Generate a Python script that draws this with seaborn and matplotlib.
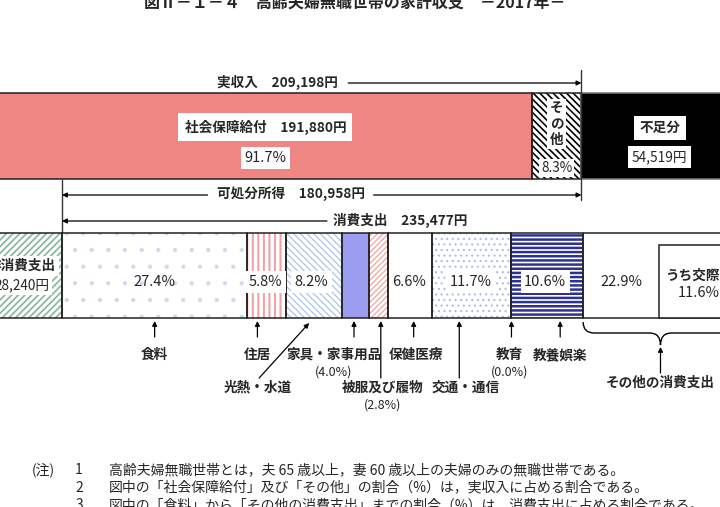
import numpy as np
import pandas as pd
import matplotlib
matplotlib.use("Agg")
import matplotlib.pyplot as plt
import seaborn as sns
from matplotlib.path import Path
from matplotlib.patches import PathPatch

sns.set_theme(style="white")
plt.rcParams['font.family'] = ['Noto Sans CJK JP', 'DejaVu Sans']
plt.rcParams['hatch.linewidth'] = 0.9

# ---------------- data ----------------
title = "図Ⅱ－１－４　高齢夫婦無職世帯の家計収支　－2017年－"
income_labels = ["社会保障給付", "その他", "不足分"]
income_values = [191880, 17318, 54519]
income_pct = [91.7, 8.3]
real_income = 209198
disposable_income = 180958
non_consumption = 28240
consumption_total = 235477
cons_labels = ["食料", "住居", "光熱・水道", "家具・家事用品", "被服及び履物",
               "保健医療", "交通・通信", "教育", "教養娯楽", "その他の消費支出"]
cons_pct = [27.4, 5.8, 8.2, 4.0, 2.8, 6.6, 11.7, 0.0, 10.6, 22.9]
social_pct = 11.6  # うち交際費
notes = ["高齢夫婦無職世帯とは，夫 65 歳以上，妻 60 歳以上の夫婦のみの無職世帯である。",
         "図中の「社会保障給付」及び「その他」の割合（%）は，実収入に占める割合である。",
         "図中の「食料」から「その他の消費支出」までの割合（%）は，消費支出に占める割合である。"]

# ---------------- layout ----------------
K = 0.00287      # px per yen
X0 = -19         # px position of 0 yen
W, H = 720, 507
def yen(px_off):
    return px_off / K

fig = plt.figure(figsize=(7.2, 5.07), dpi=100)
ax = fig.add_axes([0, 0, 1, 1])
ax.set_xlim((0 - X0) / K, (W - X0) / K)
ax.set_ylim(H, 0)
ax.axis("off")

EDGE = "#222222"
FS = 9.8
WB = dict(boxstyle="square,pad=0.25", fc="white", ec="none")

def seg(y, left, width, h, face, hatch=None, hcolor=None, hlw=None, edge=EDGE, lw=1.1):
    if hatch:
        bars = ax.barh(y, width, left=left, height=h, color=face, edgecolor=hcolor,
                       hatch=hatch, linewidth=0, zorder=1)
        if hlw is not None:
            for p in bars:
                if hasattr(p, "set_hatch_linewidth"):
                    p.set_hatch_linewidth(hlw)
    else:
        ax.barh(y, width, left=left, height=h, color=face, linewidth=0, zorder=1)
    ax.barh(y, width, left=left, height=h, fill=False, edgecolor=edge, linewidth=lw, zorder=2)

# ---- top bar (income) ----
TY, TH = 136, 86
soc, oth, short = income_values
seg(TY, 0, soc, TH, "#EE8784")
seg(TY, soc, oth, TH, "white", hatch="\\\\\\\\\\", hcolor="black", hlw=1.2)
seg(TY, soc + oth, short, TH, "black", edge="#777777")

cx = soc / 2 + yen(9)
ax.text(cx, 127, f"{income_labels[0]}　{soc:,}円", ha="center", va="center",
        fontsize=FS, weight="bold", bbox=dict(boxstyle="square,pad=0.45", fc="white", ec="none"), zorder=4)
ax.text(cx, 158, f"{income_pct[0]}%", ha="center", va="center", fontsize=10.5,
        bbox=WB, zorder=4)
ox = soc + oth / 2
ax.text(ox, 124, "そ\nの\n他", ha="center", va="center", fontsize=FS, weight="bold",
        linespacing=1.15, bbox=dict(boxstyle="square,pad=0.2", fc="white", ec="none"), zorder=4)
ax.text(ox, 168, f"{income_pct[1]}%", ha="center", va="center", fontsize=9.8,
        bbox=dict(boxstyle="square,pad=0.15", fc="white", ec="none"), zorder=4)
sx = soc + oth + short / 2
ax.text(sx, 128, income_labels[2], ha="center", va="center", fontsize=FS, weight="bold",
        bbox=dict(boxstyle="square,pad=0.4", fc="white", ec="none"), zorder=4)
ax.text(sx, 157, f"{short:,}円", ha="center", va="center", fontsize=FS,
        bbox=dict(boxstyle="square,pad=0.3", fc="white", ec="none"), zorder=4)

# ---- bracket arrows ----
AP = dict(arrowstyle="-|>", color="black", lw=0.9, mutation_scale=7, shrinkA=0, shrinkB=0)
LP = dict(arrowstyle="-", color="black", lw=0.9, shrinkA=0, shrinkB=0)

def span(y, x_start, x_end, text, tx, gap_px, head_left, head_right):
    ax.text(tx, y - 1, text, ha="center", va="center", fontsize=FS, weight="bold", zorder=4)
    gl, gr = tx - yen(gap_px), tx + yen(gap_px)
    ax.annotate("", xy=(x_start, y), xytext=(gl, y), arrowprops=AP if head_left else LP)
    ax.annotate("", xy=(x_end, y), xytext=(gr, y), arrowprops=AP if head_right else LP)

span(83, 0, real_income, f"実収入　{real_income:,}円", real_income / 2 - yen(4), 71, False, True)
ax.plot([real_income, real_income], [70, 200], color="#333333", lw=1)
span(195, non_consumption, real_income, f"可処分所得　{disposable_income:,}円",
     non_consumption + disposable_income * 0.44, 83, True, True)
ax.plot([non_consumption, non_consumption], [180, 233], color="#333333", lw=1)
span(221, non_consumption, non_consumption + consumption_total + yen(30),
     f"消費支出　{consumption_total:,}円", non_consumption + consumption_total / 2, 73, True, False)

# ---- bottom bar (expenditure) ----
BY, BH = 275.5, 85
seg(BY, 0, non_consumption, BH, "white", hatch="/////", hcolor="#8DB9A3", hlw=1.3)
ax.text(non_consumption / 2, 266, "非消費支出", ha="center", va="center", fontsize=FS,
        weight="bold", bbox=WB, zorder=4)
ax.text(non_consumption / 2, 285, f"{non_consumption:,}円", ha="center", va="center",
        fontsize=FS, bbox=WB, zorder=4)

widths = np.array(cons_pct) / 100 * consumption_total
lefts = non_consumption + np.concatenate([[0], np.cumsum(widths)[:-1]])

styles = [
    dict(face="white", hatch=".", hcolor="#CCDAF0", hlw=0.6),
    dict(face="white", hatch="|||", hcolor="#F2A3A3", hlw=1.5),
    dict(face="white", hatch="\\\\\\\\\\", hcolor="#A9C6EC", hlw=0.9),
    dict(face="#9C9CF0"),
    dict(face="white", hatch="//////", hcolor="#F0A4A0", hlw=0.9),
    dict(face="white"),
    dict(face="white", hatch="...", hcolor="#A9BDEA", hlw=0.8),
    dict(face="white"),
    dict(face="white", hatch="----", hcolor="#2E318F", hlw=1.8),
    dict(face="white"),
]
for l, w, st in zip(lefts, widths, styles):
    seg(BY, l, w, BH, st["face"], hatch=st.get("hatch"), hcolor=st.get("hcolor"), hlw=st.get("hlw"))

# 交際費 inner box
soc_w = social_pct / 100 * consumption_total
oth_left, oth_w = lefts[-1], widths[-1]
ax.barh(281.5, soc_w, left=oth_left + oth_w - soc_w, height=73, color="white",
        edgecolor=EDGE, linewidth=1.1, zorder=2)
sc = oth_left + oth_w - soc_w / 2
ax.text(sc, 276, "うち交際費", ha="center", va="center", fontsize=FS, weight="bold", zorder=4)
ax.text(sc, 293, f"{social_pct}%", ha="center", va="center", fontsize=10.5, zorder=4)

# in-bar percentage labels
pct_shift_px = [0, -1, -3, None, None, -1, -1, None, -2, 0]
boxed = [False, True, True, False, False, False, True, False, True, False]
for i, (l, w, p) in enumerate(zip(lefts, widths, cons_pct)):
    if pct_shift_px[i] is None:
        continue
    if i == len(cons_pct) - 1:
        x = l + (w - soc_w) / 2
    else:
        x = l + w / 2 + yen(pct_shift_px[i])
    ax.text(x, 282, f"{p}%", ha="center", va="center", fontsize=10.5,
            bbox=dict(boxstyle="square,pad=0.25", fc="white", ec="none") if boxed[i] else None,
            zorder=4)

# arrows + category labels below
arrow_frac = [0.5, 0.26, 0.41, 0.45, 0.63, 0.58, 0.34, 0.0, 0.68, 0.5]
arrow_tail = [337, 337, None, 337, 378, 337, 378, 337, 337, 373]
label_dx = [0, 0, -1, -20, 2, 2, 6, -2, 0, 0]
label_y = [355, 355, 388, 355, 388, 355, 388, 355, 355, 383]
AP2 = dict(arrowstyle="-|>", color="black", lw=0.9, mutation_scale=7, shrinkA=0, shrinkB=0)
for i, (l, w) in enumerate(zip(lefts, widths)):
    ax_x = l + w * arrow_frac[i]
    lx = ax_x + yen(label_dx[i])
    if i == 2:
        ax.annotate("", xy=(ax_x, 323), xytext=(ax_x - yen(50), 378), arrowprops=AP2)
        lx = ax_x - yen(51)
    elif i == len(cons_pct) - 1:
        ax.annotate("", xy=(ax_x, 347), xytext=(ax_x, arrow_tail[i]), arrowprops=AP2)
    else:
        ax.annotate("", xy=(ax_x, 321), xytext=(ax_x, arrow_tail[i]), arrowprops=AP2)
    ax.text(lx, label_y[i], cons_labels[i], ha="center", va="center", fontsize=FS,
            weight="bold", zorder=4)
    if cons_labels[i] in ("家具・家事用品", "被服及び履物", "教育"):
        ax.text(lx, label_y[i] + 17, f"({cons_pct[i]}%)", ha="center", va="center",
                fontsize=9, zorder=4)

# brace under その他の消費支出
x0b, x1b = oth_left, oth_left + oth_w
xm = (x0b + x1b) / 2
r = yen(11)
yt, yh, yp = 322, 333, 345
verts = [(x0b, yt), (x0b, yh), (x0b + r, yh),
         (xm - r, yh), (xm, yh), (xm, yp),
         (xm, yh), (xm + r, yh),
         (x1b - r, yh), (x1b, yh), (x1b, yt)]
codes = [Path.MOVETO, Path.CURVE3, Path.CURVE3,
         Path.LINETO, Path.CURVE3, Path.CURVE3,
         Path.CURVE3, Path.CURVE3,
         Path.LINETO, Path.CURVE3, Path.CURVE3]
ax.add_patch(PathPatch(Path(verts, codes), fill=False, edgecolor="black", lw=1.0))

# title and notes
ax.text(yen(355 - X0), 3, title, ha="center", va="center", fontsize=11.5, weight="bold")
ax.text(yen(32 - X0), 470, "(注)", ha="left", va="center", fontsize=10)
for i, n in enumerate(notes):
    y = 470 + 17.5 * i
    ax.text(yen(79 - X0), y, str(i + 1), ha="center", va="center", fontsize=10)
    ax.text(yen(109 - X0), y, n, ha="left", va="center", fontsize=10)

fig.savefig("out.png", dpi=100)
